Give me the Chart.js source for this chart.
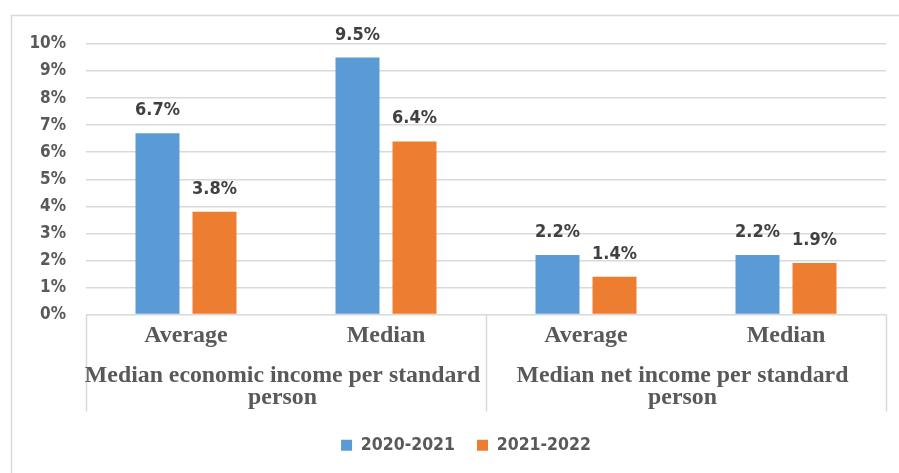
<!DOCTYPE html>
<html>
<head>
<meta charset="utf-8">
<script src="https://cdn.jsdelivr.net/npm/chart.js@4/dist/chart.umd.min.js"></script>
<style>
  html, body { margin: 0; padding: 0; background: #ffffff; }
  #wrap { position: relative; width: 899px; height: 473px; }
</style>
</head>
<body>
<div id="wrap"><canvas id="c" width="899" height="473"></canvas></div>
<script>
// ---- data ----
const categories = ["Average", "Median", "Average", "Median"];
const groupLabels = [
  ["Median economic income per standard", "person"],
  ["Median net income per standard", "person"]
];
const groupSizes = [2, 2];
const seriesNames = ["2020-2021", "2021-2022"];
const values2020_2021 = [6.7, 9.5, 2.2, 2.2];
const values2021_2022 = [3.8, 6.4, 1.4, 1.9];
const yTicks = [0, 1, 2, 3, 4, 5, 6, 7, 8, 9, 10];

const colors = ["#5B9BD5", "#ED7D31"];
const gridColor = "#d9d9d9";
const sansBold = "'DejaVu Sans Condensed', 'DejaVu Sans', sans-serif";
const serif = "'Liberation Serif', 'Times New Roman', serif";

const framePlugin = {
  id: 'frame',
  afterLayout(chart) {
    const lg = chart.legend;
    if (lg) {
      lg.left += 17; lg.right += 17;
      lg.top += 3; lg.bottom += 3;
    }
  },
  beforeDraw(chart) {
    const ctx = chart.ctx;
    ctx.save();
    ctx.fillStyle = '#ffffff';
    ctx.fillRect(0, 0, chart.width, chart.height);
    ctx.strokeStyle = gridColor;
    ctx.lineWidth = 1.5;
    ctx.strokeRect(11.5, 15.5, chart.width + 20, chart.height + 20);
    ctx.restore();
  }
};

const groupAxisPlugin = {
  id: 'groupAxis',
  afterDraw(chart) {
    const ctx = chart.ctx;
    const xs = chart.scales.x;
    const top = chart.chartArea.bottom;
    const bottom = xs.bottom;
    const half = (xs.getPixelForValue(1) - xs.getPixelForValue(0)) / 2;
    ctx.save();
    ctx.strokeStyle = gridColor;
    ctx.lineWidth = 1.5;
    let idx = 0;
    const seps = [xs.getPixelForValue(0) - half];
    const centers = [];
    groupSizes.forEach(n => {
      const l = xs.getPixelForValue(idx) - half;
      const r = xs.getPixelForValue(idx + n - 1) + half;
      centers.push((l + r) / 2);
      seps.push(r);
      idx += n;
    });
    seps.forEach(x => {
      ctx.beginPath();
      ctx.moveTo(Math.round(x) + 0.5, top);
      ctx.lineTo(Math.round(x) + 0.5, bottom);
      ctx.stroke();
    });
    ctx.fillStyle = '#595959';
    ctx.font = "bold 23.8px " + serif;
    ctx.textAlign = 'center';
    ctx.textBaseline = 'alphabetic';
    groupLabels.forEach((lines, g) => {
      lines.forEach((t, i) => {
        ctx.fillText(t, centers[g] - 3.5, top + 67 + i * 22);
      });
    });
    ctx.restore();
  }
};

const valueLabelPlugin = {
  id: 'valueLabels',
  afterDatasetsDraw(chart) {
    const ctx = chart.ctx;
    ctx.save();
    ctx.fillStyle = '#404040';
    ctx.font = "bold 18px " + sansBold;
    ctx.textAlign = 'center';
    ctx.textBaseline = 'alphabetic';
    chart.data.datasets.forEach((ds, di) => {
      const meta = chart.getDatasetMeta(di);
      meta.data.forEach((bar, i) => {
        ctx.fillText(ds.data[i].toFixed(1) + '%', bar.x, bar.y - 18);
      });
    });
    ctx.restore();
  }
};

new Chart(document.getElementById('c'), {
  type: 'bar',
  data: {
    labels: categories,
    datasets: [
      { label: seriesNames[0], data: values2020_2021, backgroundColor: colors[0], borderWidth: 0 },
      { label: seriesNames[1], data: values2021_2022, backgroundColor: colors[1], borderWidth: 0 }
    ]
  },
  options: {
    responsive: false,
    animation: false,
    devicePixelRatio: 1,
    categoryPercentage: 0.57,
    barPercentage: 0.772,
    layout: { padding: { top: 44, right: 13, left: 12, bottom: 12 } },
    plugins: {
      tooltip: { enabled: false },
      legend: {
        position: 'bottom',
        labels: {
          boxWidth: 11,
          boxHeight: 11,
          padding: 22,
          color: '#595959',
          font: { family: sansBold, size: 17.5, weight: 'bold' }
        }
      }
    },
    scales: {
      x: {
        grid: { display: false, drawTicks: false },
        border: { display: false },
        ticks: {
          color: '#595959',
          padding: 7,
          font: { family: serif, size: 24, weight: 'bold' },
          maxRotation: 0
        },
        afterFit(scale) { scale.height = 97; }
      },
      y: {
        min: 0,
        max: 10,
        afterBuildTicks(scale) { scale.ticks = yTicks.map(v => ({ value: v })); },
        grid: { color: gridColor, lineWidth: 1.5, drawTicks: false },
        border: { display: false },
        ticks: {
          color: '#595959',
          padding: 20,
          font: { family: sansBold, size: 17, weight: 'bold' },
          callback: v => v + '%'
        },
        afterFit(scale) { scale.width = 74; }
      }
    }
  },
  plugins: [framePlugin, groupAxisPlugin, valueLabelPlugin]
});
</script>
</body>
</html>
